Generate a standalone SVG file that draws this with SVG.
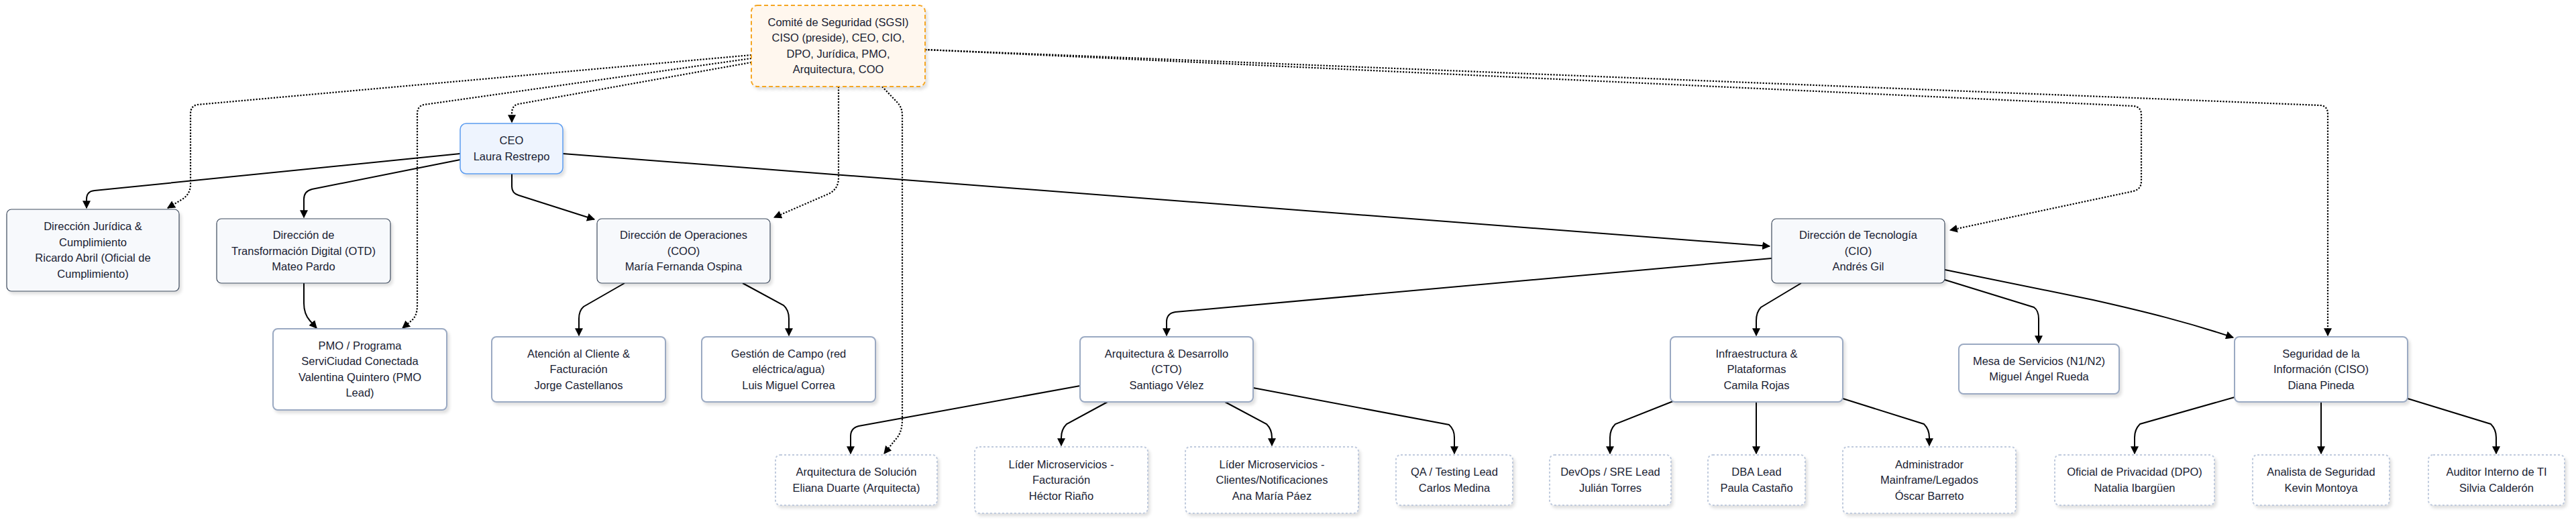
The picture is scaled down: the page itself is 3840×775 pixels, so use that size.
<svg xmlns="http://www.w3.org/2000/svg" width="3840" height="775" viewBox="0 0 3840 775">
<defs>
<style>
text{font-family:"Liberation Sans",Arial,sans-serif;font-size:16.5px;fill:#1a2233;text-anchor:middle}
.comite{fill:#fff7ee;stroke:#f5a623;stroke-width:2;stroke-dasharray:6 4}
.ceo{fill:#eef4fe;stroke:#5b9cf0;stroke-width:1.5}
.dir{fill:#f7f9fc;stroke:#3d4a5c;stroke-width:1.2}
.mid{fill:#ffffff;stroke:#9aa9c2;stroke-width:2}
.leaf{fill:#ffffff;stroke:#bfcadd;stroke-width:2;stroke-dasharray:3 3}
.e{fill:none;stroke:#000;stroke-width:2;marker-end:url(#arr)}
.d{fill:none;stroke:#000;stroke-width:2.2;stroke-dasharray:2.2 2.2;marker-end:url(#arr)}
</style>
<marker id="arr" viewBox="0 0 10 10" refX="9" refY="5" markerWidth="12" markerHeight="12" markerUnits="userSpaceOnUse" orient="auto">
<path d="M0,0 L10,5 L0,10 z" fill="#000"/>
</marker>
<filter id="sh" x="-10%" y="-10%" width="130%" height="140%">
<feDropShadow dx="3" dy="4" stdDeviation="2" flood-color="#000" flood-opacity="0.12"/>
</filter>
</defs>
<rect width="3840" height="775" fill="#ffffff"/>

<g id="connectors">
<path class="e" d="M686,229 L141,284 Q129,285 129,297 L129,310"/>
<path class="e" d="M686,238 L465,282 Q453,285 453,297 L453,324"/>
<path class="e" d="M763,259 L763,278 Q763,288 773,291 L886,327"/>
<path class="e" d="M839,229 L2638,367"/>
<path class="e" d="M453,422 L453,452 Q453,468 462,478 L472,489"/>
<path class="e" d="M931,422 L870,457 Q863,463 863,475 L863,500"/>
<path class="e" d="M1107,422 L1168,455 Q1176,462 1176,475 L1176,500"/>
<path class="e" d="M2641,385 L1752,465 Q1739,467 1739,480 L1739,500"/>
<path class="e" d="M2685,422 L2625,458 Q2618,465 2618,478 L2618,500"/>
<path class="e" d="M2899,417 L3032,458 Q3039,463 3039,475 L3039,511"/>
<path class="e" d="M2899,402 L3120,447 C3200,465 3260,480 3329,503"/>
<path class="e" d="M1610,575 L1280,635 Q1268,638 1268,650 L1268,676"/>
<path class="e" d="M1651,599 L1590,632 Q1582,640 1582,652 L1582,664"/>
<path class="e" d="M1826,599 L1888,632 Q1896,640 1896,652 L1896,664"/>
<path class="e" d="M1868,578 L2160,633 Q2168,640 2168,652 L2168,676"/>
<path class="e" d="M2494,598 L2408,632 Q2400,640 2400,652 L2400,676"/>
<path class="e" d="M2618,599 L2618,676"/>
<path class="e" d="M2747,594 L2868,632 Q2876,640 2876,652 L2876,664"/>
<path class="e" d="M3331,592 L3190,632 Q3182,640 3182,652 L3182,676"/>
<path class="e" d="M3460,599 L3460,676"/>
<path class="e" d="M3589,594 L3713,632 Q3721,640 3721,652 L3721,676"/>

<path class="d" d="M1120,82 L294,156 Q284,158 284,170 L284,275 Q284,290 270,298 L250,310"/>
<path class="d" d="M1120,87 L632,156 Q622,158 622,170 L622,455 Q622,472 612,479 L600,489"/>
<path class="d" d="M1120,93 L773,155 Q763,157 763,169 L763,182"/>
<path class="d" d="M1250,129 L1250,265 Q1250,282 1235,289 L1154,324"/>
<path class="d" d="M1315,129 L1337,152 Q1345,160 1345,172 L1345,625 Q1345,645 1335,655 L1318,676"/>
<path class="d" d="M1379,74 L3180,158 Q3192,159 3192,171 L3192,270 Q3192,282 3180,285 L2907,343"/>
<path class="d" d="M1379,74 L3459,157 Q3470,158 3470,170 L3470,500"/>
</g>

<g id="n-comite"><rect class="comite" filter="url(#sh)" x="1120" y="8" width="259" height="121" rx="9"/>
<text x="1249.5" y="38.8">Comité de Seguridad (SGSI)<tspan x="1249.5" dy="23.5">CISO (preside), CEO, CIO,</tspan><tspan x="1249.5" dy="23.5">DPO, Jurídica, PMO,</tspan><tspan x="1249.5" dy="23.5">Arquitectura, COO</tspan></text></g>

<g id="n-ceo"><rect class="ceo" filter="url(#sh)" x="686" y="184" width="153" height="75" rx="9"/>
<text x="762.5" y="215.3">CEO<tspan x="762.5" dy="23.5">Laura Restrepo</tspan></text></g>

<g id="n-juridica"><rect class="dir" filter="url(#sh)" x="10" y="312" width="257" height="122" rx="7"/>
<text x="138.5" y="343.3">Dirección Jurídica &amp;<tspan x="138.5" dy="23.5">Cumplimiento</tspan><tspan x="138.5" dy="23.5">Ricardo Abril (Oficial de</tspan><tspan x="138.5" dy="23.5">Cumplimiento)</tspan></text></g>

<g id="n-otd"><rect class="dir" filter="url(#sh)" x="323" y="326" width="259" height="96" rx="7"/>
<text x="452.5" y="356">Dirección de<tspan x="452.5" dy="23.5">Transformación Digital (OTD)</tspan><tspan x="452.5" dy="23.5">Mateo Pardo</tspan></text></g>

<g id="n-coo"><rect class="dir" filter="url(#sh)" x="890" y="326" width="258" height="96" rx="7"/>
<text x="1019" y="356">Dirección de Operaciones<tspan x="1019" dy="23.5">(COO)</tspan><tspan x="1019" dy="23.5">María Fernanda Ospina</tspan></text></g>

<g id="n-cio"><rect class="dir" filter="url(#sh)" x="2641" y="326" width="258" height="96" rx="7"/>
<text x="2770" y="356">Dirección de Tecnología<tspan x="2770" dy="23.5">(CIO)</tspan><tspan x="2770" dy="23.5">Andrés Gil</tspan></text></g>

<g id="n-pmo"><rect class="mid" filter="url(#sh)" x="407" y="490" width="259" height="121" rx="7"/>
<text x="536.5" y="520.8">PMO / Programa<tspan x="536.5" dy="23.5">ServiCiudad Conectada</tspan><tspan x="536.5" dy="23.5">Valentina Quintero (PMO</tspan><tspan x="536.5" dy="23.5">Lead)</tspan></text></g>

<g id="n-atencion"><rect class="mid" filter="url(#sh)" x="733" y="502" width="259" height="97" rx="7"/>
<text x="862.5" y="532.5">Atención al Cliente &amp;<tspan x="862.5" dy="23.5">Facturación</tspan><tspan x="862.5" dy="23.5">Jorge Castellanos</tspan></text></g>

<g id="n-gestion"><rect class="mid" filter="url(#sh)" x="1046" y="502" width="259" height="97" rx="7"/>
<text x="1175.5" y="532.5">Gestión de Campo (red<tspan x="1175.5" dy="23.5">eléctrica/agua)</tspan><tspan x="1175.5" dy="23.5">Luis Miguel Correa</tspan></text></g>

<g id="n-arqdes"><rect class="mid" filter="url(#sh)" x="1610" y="502" width="258" height="97" rx="7"/>
<text x="1739" y="532.5">Arquitectura &amp; Desarrollo<tspan x="1739" dy="23.5">(CTO)</tspan><tspan x="1739" dy="23.5">Santiago Vélez</tspan></text></g>

<g id="n-infra"><rect class="mid" filter="url(#sh)" x="2490" y="502" width="257" height="97" rx="7"/>
<text x="2618.5" y="532.5">Infraestructura &amp;<tspan x="2618.5" dy="23.5">Plataformas</tspan><tspan x="2618.5" dy="23.5">Camila Rojas</tspan></text></g>

<g id="n-mesa"><rect class="mid" filter="url(#sh)" x="2920" y="513" width="239" height="74" rx="7"/>
<text x="3039.5" y="543.8">Mesa de Servicios (N1/N2)<tspan x="3039.5" dy="23.5">Miguel Ángel Rueda</tspan></text></g>

<g id="n-seguridad"><rect class="mid" filter="url(#sh)" x="3331" y="502" width="258" height="97" rx="7"/>
<text x="3460" y="532.5">Seguridad de la<tspan x="3460" dy="23.5">Información (CISO)</tspan><tspan x="3460" dy="23.5">Diana Pineda</tspan></text></g>

<g id="n-arqsol"><rect class="leaf" filter="url(#sh)" x="1156" y="678" width="241" height="75" rx="7"/>
<text x="1276.5" y="709.3">Arquitectura de Solución<tspan x="1276.5" dy="23.5">Eliana Duarte (Arquitecta)</tspan></text></g>

<g id="n-liderfact"><rect class="leaf" filter="url(#sh)" x="1453" y="666" width="258" height="99" rx="7"/>
<text x="1582" y="697.5">Líder Microservicios -<tspan x="1582" dy="23.5">Facturación</tspan><tspan x="1582" dy="23.5">Héctor Riaño</tspan></text></g>

<g id="n-liderclientes"><rect class="leaf" filter="url(#sh)" x="1767" y="666" width="258" height="99" rx="7"/>
<text x="1896" y="697.5">Líder Microservicios -<tspan x="1896" dy="23.5">Clientes/Notificaciones</tspan><tspan x="1896" dy="23.5">Ana María Páez</tspan></text></g>

<g id="n-qa"><rect class="leaf" filter="url(#sh)" x="2081" y="678" width="174" height="75" rx="7"/>
<text x="2168" y="709.3">QA / Testing Lead<tspan x="2168" dy="23.5">Carlos Medina</tspan></text></g>

<g id="n-devops"><rect class="leaf" filter="url(#sh)" x="2310" y="678" width="181" height="75" rx="7"/>
<text x="2400.5" y="709.3">DevOps / SRE Lead<tspan x="2400.5" dy="23.5">Julián Torres</tspan></text></g>

<g id="n-dba"><rect class="leaf" filter="url(#sh)" x="2546" y="678" width="145" height="75" rx="7"/>
<text x="2618.5" y="709.3">DBA Lead<tspan x="2618.5" dy="23.5">Paula Castaño</tspan></text></g>

<g id="n-admin"><rect class="leaf" filter="url(#sh)" x="2747" y="666" width="258" height="99" rx="7"/>
<text x="2876" y="697.5">Administrador<tspan x="2876" dy="23.5">Mainframe/Legados</tspan><tspan x="2876" dy="23.5">Óscar Barreto</tspan></text></g>

<g id="n-oficial"><rect class="leaf" filter="url(#sh)" x="3063" y="678" width="238" height="75" rx="7"/>
<text x="3182" y="709.3">Oficial de Privacidad (DPO)<tspan x="3182" dy="23.5">Natalia Ibargüen</tspan></text></g>

<g id="n-analista"><rect class="leaf" filter="url(#sh)" x="3358" y="678" width="204" height="75" rx="7"/>
<text x="3460" y="709.3">Analista de Seguridad<tspan x="3460" dy="23.5">Kevin Montoya</tspan></text></g>

<g id="n-auditor"><rect class="leaf" filter="url(#sh)" x="3620" y="678" width="203" height="75" rx="7"/>
<text x="3721.5" y="709.3">Auditor Interno de TI<tspan x="3721.5" dy="23.5">Silvia Calderón</tspan></text></g>
</svg>
